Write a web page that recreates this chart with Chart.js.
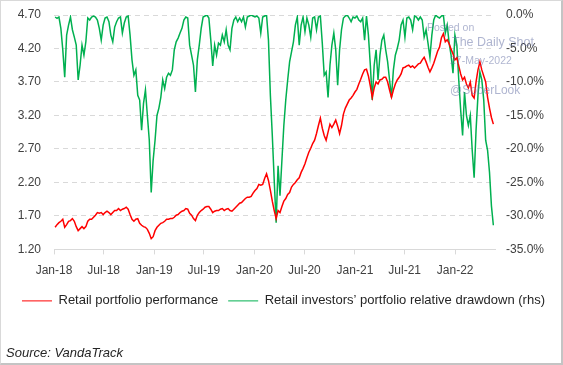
<!DOCTYPE html>
<html>
<head>
<meta charset="utf-8">
<script src="https://cdn.jsdelivr.net/npm/chart.js@4.4.1/dist/chart.umd.min.js"></script>
<style>
body { margin: 0; background: #fff; }
#wrap { position: relative; width: 563px; height: 365px; box-sizing: border-box;
  border-top: 1px solid #d9d9d9; border-left: 1px solid #d9d9d9;
  border-right: 2px solid #c4c4c4; border-bottom: 2px solid #c4c4c4; }
canvas { display: block; }
.wm { position: absolute; color: rgba(110, 120, 170, 0.55); font-family: 'Liberation Sans', Arial, sans-serif; white-space: nowrap; }
</style>
</head>
<body>
<div id="wrap">
  <canvas id="chart_main" width="560" height="362"></canvas>
  <div class="wm" style="left:426px; top:20px; font-size:10.5px;">Posted on</div>
  <div class="wm" style="left:451px; top:34px; font-size:12.5px;">The Daily Shot</div>
  <div class="wm" style="left:449px; top:53px; font-size:10.5px;">27-May-2022</div>
  <div class="wm" style="left:449px; top:82px; font-size:12px;">@SoberLook</div>
</div>
<script>
window.chartColors = {
    red: 'rgb(255, 0, 0)',
    green: 'rgb(0, 176, 80)',
    grid: '#d9d9d9',
    text: '#404040'
};

const FONT = "'Liberation Sans', Arial, sans-serif";

// x axis: days since 1 Jan 2018, one point per week (Fridays from 5 Jan 2018)
const tickLabels = ['Jan-18', 'Jul-18', 'Jan-19', 'Jul-19', 'Jan-20', 'Jul-20', 'Jan-21', 'Jul-21', 'Jan-22'];
const tickDays = [0, 181, 365, 546, 730, 912, 1096, 1277, 1461];
const firstDay = 4;

// left axis
const perf = [
    1.53, 1.57, 1.60, 1.62, 1.65, 1.53, 1.57, 1.62, 1.63, 1.66,
    1.62, 1.54, 1.48, 1.51, 1.54, 1.51, 1.54, 1.62, 1.65, 1.65,
    1.68, 1.71, 1.75, 1.74, 1.75, 1.72, 1.75, 1.77, 1.75, 1.72,
    1.75, 1.78, 1.78, 1.81, 1.78, 1.80, 1.81, 1.83, 1.80, 1.72,
    1.65, 1.62, 1.65, 1.66, 1.59, 1.56, 1.54, 1.53, 1.50, 1.44,
    1.36, 1.39, 1.48, 1.53, 1.56, 1.59, 1.60, 1.62, 1.65, 1.65,
    1.66, 1.66, 1.68, 1.71, 1.72, 1.75, 1.77, 1.78, 1.81, 1.80,
    1.74, 1.71, 1.66, 1.63, 1.71, 1.75, 1.78, 1.80, 1.83, 1.84,
    1.84, 1.80, 1.75, 1.77, 1.78, 1.78, 1.80, 1.81, 1.78, 1.80,
    1.81, 1.78, 1.77, 1.80, 1.83, 1.86, 1.89, 1.90, 1.93, 1.96,
    1.98, 1.98, 1.99, 2.04, 2.08, 2.11, 2.17, 2.16, 2.17, 2.26,
    2.33, 2.23, 2.08, 1.92, 1.78, 1.66, 1.78, 1.75, 1.84, 1.92,
    1.96, 2.02, 2.05, 2.13, 2.17, 2.20, 2.24, 2.27, 2.35, 2.41,
    2.48, 2.57, 2.65, 2.71, 2.78, 2.83, 2.93, 3.05, 3.16, 3.01,
    2.90, 2.83, 2.95, 3.07, 3.02, 3.07, 3.13, 3.04, 2.93, 3.05,
    3.22, 3.31, 3.37, 3.43, 3.46, 3.50, 3.55, 3.59, 3.67, 3.74,
    3.82, 3.88, 3.89, 3.79, 3.64, 3.47, 3.61, 3.70, 3.67, 3.73,
    3.74, 3.77, 3.77, 3.70, 3.58, 3.47, 3.58, 3.67, 3.73, 3.77,
    3.82, 3.91, 3.92, 3.94, 3.95, 3.92, 3.94, 3.91, 3.94, 3.97,
    3.98, 4.03, 4.07, 4.00, 3.92, 3.85, 3.91, 3.98, 4.07, 4.16,
    4.22, 4.36, 4.42, 4.30, 4.33, 4.27, 4.19, 4.12, 4.03, 4.06,
    3.94, 3.82, 3.73, 3.77, 3.67, 3.61, 3.70, 3.50, 3.46, 3.70,
    3.88, 4.00, 3.88, 3.79, 3.70, 3.47, 3.31, 3.17, 3.07
];

// right axis, percent
const drawdown = [
    -0.3, -0.5, -0.3, -2.0, -5.2, -9.3, -3.0, -1.5, -0.3, -2.2,
    -3.3, -4.5, -9.7, -7.5, -4.5, -6.0, -4.0, -0.45, -0.75, -0.3,
    -0.15, -0.3, -0.75, -2.0, -3.75, -1.5, -0.45, -0.3, -1.0, -3.0,
    -4.0, -1.8, -1.0, -0.45, -0.3, -2.7, -1.2, -0.3, -0.15, -3.0,
    -6.7, -9.0, -8.2, -12.0, -12.7, -17.2, -13.2, -11.2, -15.0, -18.7,
    -26.5, -21.7, -18.7, -15.0, -13.9, -12.3, -9.7, -11.0, -9.3, -8.7,
    -9.0, -8.2, -5.2, -4.0, -3.45, -2.7, -2.0, -0.75, -0.3, -0.45,
    -4.5, -6.0, -7.5, -11.5, -6.7, -4.5, -2.0, -0.3, -0.15, 0,
    -0.45, -3.75, -7.6, -4.5, -6.0, -4.2, -4.5, -3.0, -4.0, -2.2,
    -4.5, -5.2, -2.0, -0.75, -0.3, -1.0, -0.45, -1.0, -0.3, -1.8,
    -0.3, -0.15, 0, -0.15, -0.3, -0.15, -0.45, -2.7, -0.3, -0.15,
    0, -3.75, -12.0, -18.0, -24.7, -31.0, -22.5, -27.0, -21.7, -16.5,
    -12.7, -9.7, -7.0, -5.5, -4.0, -1.5, -0.3, -4.5, -1.5, -0.3,
    -2.5, -0.45, -1.5, -3.3, -0.45, -0.3, -2.2, -0.3, -0.15, -4.2,
    -9.0, -8.5, -12.3, -7.5, -4.5, -2.7, -5.2, -10.5, -5.2, -2.2,
    -0.45, -0.15, 0, -0.45, -1.0, -0.3, -0.45, -0.15, -0.75, -1.0,
    -0.45, -3.75, -0.15, -3.0, -7.5, -12.7, -7.5, -5.2, -9.7, -6.0,
    -3.75, -3.0, -5.2, -7.0, -9.7, -12.3, -8.2, -6.0, -5.0, -3.75,
    -1.5, -0.75, -3.3, -0.45, -0.3, -0.75, -2.2, -0.15, -0.3, -0.75,
    -0.3, -0.75, -3.3, -2.2, -4.2, -6.3, -3.0, -0.75, 0, -0.3,
    -0.45, -0.15, 0, -2.7, -1.5, -4.2, -6.0, -8.7, -3.0, -4.5,
    -9.7, -14.2, -18.0, -11.5, -15.0, -16.5, -15.0, -20.2, -24.3, -17.2,
    -12.0, -8.5, -9.7, -12.7, -18.7, -20.2, -23.5, -28.5, -31.4
];

function weekly(values) {
    return values.map((v, i) => ({x: firstDay + 7 * i, y: v}));
}

function render_chart() {
    const ctx = document.getElementById('chart_main').getContext('2d');
    const tickFont = {family: FONT, size: 12};
    const chart = new Chart(ctx, {
        type: 'line',
        data: {
            datasets: [
                {
                    label: 'Retail portfolio performance',
                    backgroundColor: window.chartColors.red,
                    borderColor: window.chartColors.red,
                    data: weekly(perf),
                    yAxisID: 'y',
                    fill: false
                },
                {
                    label: 'Retail investors\u2019 portfolio relative drawdown (rhs)',
                    backgroundColor: window.chartColors.green,
                    borderColor: window.chartColors.green,
                    data: weekly(drawdown),
                    yAxisID: 'y1',
                    fill: false
                }
            ]
        },
        options: {
            responsive: false,
            animation: false,
            devicePixelRatio: 1,
            layout: {padding: {left: 5, right: 0, top: 14, bottom: 0}},
            elements: {
                point: {radius: 0},
                line: {borderWidth: 1.5, tension: 0}
            },
            plugins: {
                legend: {
                    position: 'bottom',
                    labels: {
                        usePointStyle: true,
                        pointStyle: 'line',
                        pointStyleWidth: 30,
                        boxHeight: 13,
                        padding: 10,
                        color: '#262626',
                        font: {family: FONT, size: 13}
                    }
                },
                title: {
                    display: true,
                    position: 'bottom',
                    align: 'start',
                    text: 'Source: VandaTrack',
                    color: '#262626',
                    font: {family: FONT, size: 13, style: 'italic', weight: 'normal'},
                    padding: {top: 28, bottom: 2}
                },
                tooltip: {enabled: false}
            },
            scales: {
                x: {
                    type: 'linear',
                    min: 0,
                    max: 1606,
                    afterBuildTicks: s => { s.ticks = tickDays.map(d => ({value: d})); },
                    afterFit: s => { s.height = 35; },
                    ticks: {
                        autoSkip: false,
                        maxRotation: 0,
                        padding: 9,
                        color: window.chartColors.text,
                        font: tickFont,
                        callback: (v, i) => tickLabels[i]
                    },
                    grid: {drawOnChartArea: false, color: window.chartColors.grid, tickLength: 5},
                    border: {color: window.chartColors.grid}
                },
                y: {
                    position: 'left',
                    min: 1.2,
                    max: 4.7,
                    afterFit: s => { s.width = 48; },
                    ticks: {
                        stepSize: 0.5,
                        padding: 2,
                        color: window.chartColors.text,
                        font: tickFont,
                        callback: v => v.toFixed(2)
                    },
                    grid: {color: window.chartColors.grid, tickColor: 'rgba(0,0,0,0)', tickLength: 11},
                    border: {display: false, dash: [5, 4]}
                },
                y1: {
                    position: 'right',
                    min: -35,
                    max: 0,
                    afterFit: s => { s.width = 66; },
                    ticks: {
                        stepSize: 5,
                        padding: 2,
                        color: window.chartColors.text,
                        font: tickFont,
                        callback: v => v.toFixed(1) + '%'
                    },
                    grid: {display: false, tickLength: 9},
                    border: {display: false}
                }
            }
        }
    });
}

render_chart();
</script>
</body>
</html>
